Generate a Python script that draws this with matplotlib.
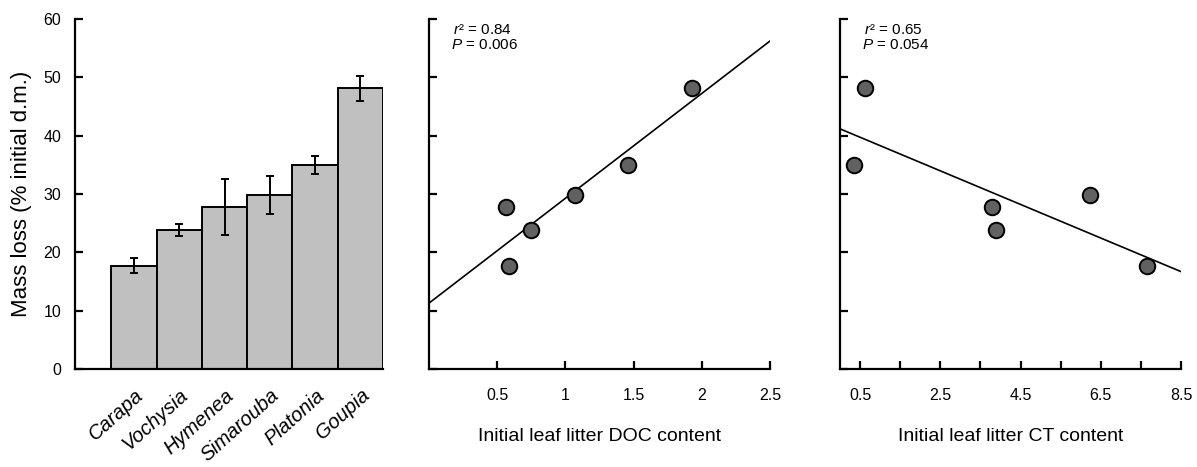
import numpy as np
import matplotlib
matplotlib.use("Agg")
import matplotlib.pyplot as plt
from matplotlib.ticker import MultipleLocator

plt.rcParams['font.family'] = ['Liberation Sans', 'DejaVu Sans']
plt.rcParams['mathtext.fontset'] = 'custom'
plt.rcParams['mathtext.rm'] = 'Liberation Sans'
plt.rcParams['mathtext.it'] = 'Liberation Sans:italic'

# species mass loss (% initial dry mass), sorted
species = ["Carapa", "Vochysia", "Hymenea", "Simarouba", "Platonia", "Goupia"]
mass_loss = [17.7, 23.8, 27.7, 29.8, 35.0, 48.1]
err_low = [16.4, 22.8, 22.9, 26.6, 33.5, 46.0]
err_high = [19.0, 24.8, 32.6, 33.0, 36.5, 50.3]

# initial litter chemistry for the same species
doc_content = [0.59, 0.75, 0.565, 1.067, 1.46, 1.93]
ct_content = [7.65, 3.88, 3.79, 6.24, 0.36, 0.62]

stats_doc = ("0.84", "0.006")
stats_ct = ("0.65", "0.054")

fig = plt.figure(figsize=(11.97, 4.67), dpi=100)
bottom, top = 0.2099, 0.9593
ax1 = fig.add_axes([0.0627, bottom, 0.32 - 0.0627, top - bottom])
ax2 = fig.add_axes([0.3584, bottom, 0.6433 - 0.3584, top - bottom])
ax3 = fig.add_axes([0.7018, bottom, 0.9866 - 0.7018, top - bottom])

for ax in (ax1, ax2, ax3):
    ax.spines['top'].set_visible(False)
    ax.spines['right'].set_visible(False)
    for s in ('left', 'bottom'):
        ax.spines[s].set_linewidth(1.6)
    ax.set_ylim(0, 60)
    ax.yaxis.set_major_locator(MultipleLocator(10))
    ax.tick_params(direction='in', length=6, width=1.6, labelsize=11.5,
                   colors='black')
    ax.tick_params(which='minor', direction='in', length=6, width=1.6)
    ax.tick_params(axis='x', pad=14)

# bar panel
pos = np.arange(len(species))
yerr = [np.array(mass_loss) - np.array(err_low),
        np.array(err_high) - np.array(mass_loss)]
ax1.bar(pos, mass_loss, width=1.0, color='#c0c0c0', edgecolor='black',
        linewidth=1.4, zorder=2)
ax1.errorbar(pos, mass_loss, yerr=yerr, fmt='none', ecolor='black',
             elinewidth=1.4, capsize=3, capthick=1.4, zorder=3)
ax1.set_xlim(-1.3, 5.5)
ax1.set_xticks(pos)
ax1.set_xticklabels(species, rotation=42, ha='right', va='top',
                    rotation_mode='anchor', style='italic', fontsize=14.5)
ax1.tick_params(axis='x', length=0, pad=12)
ax1.tick_params(axis='y', pad=10)
ax1.set_ylabel("Mass loss (% initial d.m.)", fontsize=16, labelpad=8)


def scatter_panel(ax, x, y, xmax, stats, xlabel):
    ax.scatter(x, y, s=125, facecolor='#616161', edgecolor='black',
               linewidth=1.4, zorder=3)
    b, a = np.polyfit(x, y, 1)
    xs = np.array([0, xmax])
    ax.plot(xs, a + b * xs, color='black', lw=1.2, zorder=2)
    ax.set_xlim(0, xmax)
    ax.set_yticklabels([])
    ax.set_xlabel(xlabel, fontsize=14, labelpad=18)
    ax.text(0.07, 0.99, r"$r$² = " + stats[0], transform=ax.transAxes,
            fontsize=11, va='top', ha='left')
    ax.text(0.065, 0.945, r"$P$ = " + stats[1], transform=ax.transAxes,
            fontsize=11, va='top', ha='left')


scatter_panel(ax2, doc_content, mass_loss, 2.5, stats_doc,
              "Initial leaf litter DOC content")
ax2.set_xticks([0.5, 1, 1.5, 2, 2.5])
ax2.set_xticklabels(["0.5", "1", "1.5", "2", "2.5"])

scatter_panel(ax3, ct_content, mass_loss, 8.5, stats_ct,
              "Initial leaf litter CT content")
ax3.set_xticks([0.5, 2.5, 4.5, 6.5, 8.5])
ax3.set_xticks([1.5, 3.5, 5.5, 7.5], minor=True)

fig.savefig("out.png", dpi=100)
